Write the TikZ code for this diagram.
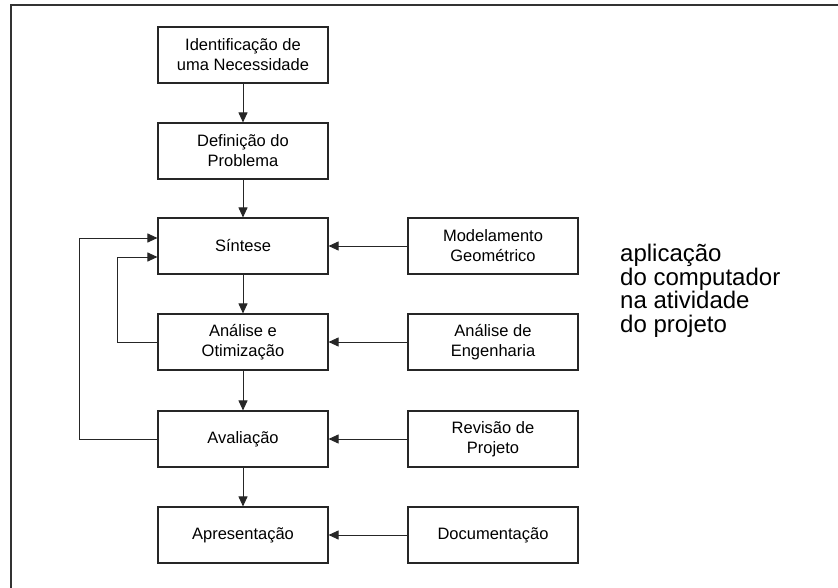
\documentclass[tikz,border=0pt]{standalone}
\usepackage{fontspec}
\setmainfont{Liberation Sans}
\usetikzlibrary{arrows.meta}
\begin{document}
\begin{tikzpicture}[x=1pt,y=-1pt,
  stagebox/.style={draw=black!85,line width=1.1pt,rectangle,minimum width=170pt,minimum height=56pt,
    align=center,inner sep=2pt,font=\fontsize{16.5}{20}\selectfont},
  arr/.style={draw=black!85,line width=0.9pt,-{Triangle[length=10pt,width=9pt]}},
  link/.style={draw=black!85,line width=0.9pt}]
\useasboundingbox (0,0) rectangle (838,588);
\draw[black!80,line width=1.3pt] (11,588) -- (11,5) -- (838,5);

\node[stagebox] (idn) at (243,55) {Identificação de\\uma Necessidade};
\node[stagebox] (def) at (243,151) {Definição do\\Problema};
\node[stagebox] (sin) at (243,246) {Síntese};
\node[stagebox] (ana) at (243,342) {Análise e\\Otimização};
\node[stagebox] (ava) at (243,439) {Avaliação};
\node[stagebox] (apr) at (243,535) {Apresentação};

\node[stagebox] (mod) at (493,246) {Modelamento\\Geométrico};
\node[stagebox] (eng) at (493,342) {Análise de\\Engenharia};
\node[stagebox] (rev) at (493,439) {Revisão de\\Projeto};
\node[stagebox] (doc) at (493,535) {Documentação};

\node[anchor=base west,inner sep=0pt,align=left,font=\fontsize{24}{23.4}\selectfont] (app) at (620,332)
  {\spaceskip=0.4em\relax aplicação\\do computador\\na atividade\\do projeto};

\draw[arr] (idn) -- (def);
\draw[arr] (def) -- (sin);
\draw[arr] (sin) -- (ana);
\draw[arr] (ana) -- (ava);
\draw[arr] (ava) -- (apr);

\draw[arr] (mod) -- (sin);
\draw[arr] (eng) -- (ana);
\draw[arr] (rev) -- (ava);
\draw[arr] (doc) -- (apr);

\draw[arr] (ava.west) -- ++(-78,0) |- ([yshift=8pt]sin.west);
\draw[arr] (ana.west) -- ++(-40,0) |- ([yshift=-11pt]sin.west);
\end{tikzpicture}
\end{document}
